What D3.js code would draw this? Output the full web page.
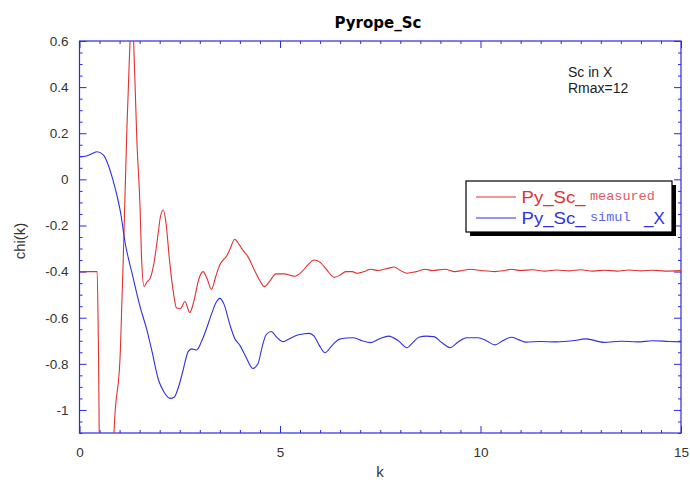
<!DOCTYPE html>
<html>
<head>
<meta charset="utf-8">
<script src="https://cdn.jsdelivr.net/npm/d3@7"></script>
<style>
  body { margin: 0; background: #fff; }
  svg { display: block; }
  .tick text { font-family: "Liberation Sans", Arial, sans-serif; font-size: 13.5px; fill: #333; }
</style>
</head>
<body>
<div id="chart"></div>
<script>
// chart data
var kMeasured = [0, 0.44, 0.47, 0.52, 0.83, 0.86, 1.02, 1.10, 1.18, 1.26, 1.30, 1.35, 1.43, 1.51, 1.55, 1.61, 1.68, 1.76, 1.85, 1.95,
    2.02, 2.09, 2.15, 2.25, 2.35, 2.42, 2.52, 2.63, 2.75, 2.85, 2.98, 3.08, 3.18, 3.29, 3.40, 3.50, 3.58, 3.66, 3.76, 3.87,
    3.97, 4.07, 4.20, 4.36, 4.50, 4.61, 4.75, 4.90, 5.10, 5.36, 5.55, 5.70, 5.85, 6.00, 6.20, 6.35, 6.50, 6.64, 6.80, 6.93,
    7.10, 7.26, 7.45, 7.59, 7.72, 7.84, 8.00, 8.17, 8.40, 8.62, 8.80, 9.12, 9.36, 9.55, 9.74, 10.0, 10.36, 10.6, 10.77, 11.0,
    11.3, 11.6, 11.9, 12.2, 12.5, 12.8, 13.1, 13.4, 13.7, 14.0, 14.3, 14.6, 15.0];
var chiMeasured = [-0.4, -0.4, -0.7, -1.5, -1.5, -1.1, -0.74, -0.29, 0.21, 0.6, 0.78, 0.6, 0.17, -0.12, -0.35, -0.465, -0.445, -0.43, -0.37, -0.25,
    -0.16, -0.133, -0.18, -0.36, -0.5, -0.558, -0.56, -0.53, -0.578, -0.53, -0.43, -0.40, -0.43, -0.477, -0.42, -0.37, -0.35, -0.335, -0.30, -0.26,
    -0.28, -0.306, -0.335, -0.393, -0.44, -0.465, -0.44, -0.41, -0.41, -0.42, -0.40, -0.37, -0.35, -0.36, -0.40, -0.425, -0.415, -0.40, -0.40, -0.407,
    -0.40, -0.39, -0.395, -0.39, -0.385, -0.38, -0.395, -0.407, -0.40, -0.39, -0.395, -0.39, -0.40, -0.395, -0.39, -0.395, -0.40, -0.395, -0.39, -0.395,
    -0.392, -0.398, -0.393, -0.397, -0.392, -0.398, -0.394, -0.398, -0.393, -0.397, -0.394, -0.398, -0.396];

var kSimul = [0, 0.15, 0.30, 0.44, 0.60, 0.70, 0.81, 0.92, 1.02, 1.14, 1.31, 1.51, 1.68, 1.80, 1.97, 2.10, 2.26, 2.36, 2.46, 2.58,
    2.71, 2.80, 2.92, 3.05, 3.17, 3.30, 3.42, 3.50, 3.60, 3.75, 3.87, 4.00, 4.15, 4.32, 4.45, 4.55, 4.65, 4.78, 4.92, 5.07,
    5.25, 5.44, 5.60, 5.73, 5.85, 5.98, 6.12, 6.30, 6.47, 6.65, 6.84, 7.05, 7.26, 7.50, 7.71, 7.95, 8.17, 8.30, 8.46, 8.65,
    8.83, 9.05, 9.24, 9.45, 9.65, 9.94, 10.15, 10.36, 10.55, 10.77, 10.95, 11.14, 11.5, 11.9, 12.3, 12.63, 13.08, 13.5, 13.9, 14.3,
    14.7, 15.0];
var chiSimul = [0.098, 0.10, 0.11, 0.12, 0.105, 0.07, 0.012, -0.06, -0.14, -0.277, -0.407, -0.552, -0.653, -0.74, -0.87, -0.92, -0.95, -0.945, -0.906, -0.83,
    -0.747, -0.735, -0.74, -0.70, -0.646, -0.58, -0.53, -0.516, -0.54, -0.63, -0.69, -0.72, -0.77, -0.82, -0.80, -0.73, -0.675, -0.66, -0.685, -0.704,
    -0.69, -0.675, -0.67, -0.668, -0.68, -0.72, -0.752, -0.72, -0.694, -0.688, -0.687, -0.70, -0.708, -0.69, -0.68, -0.70, -0.73, -0.71, -0.685, -0.68,
    -0.682, -0.71, -0.73, -0.704, -0.687, -0.687, -0.70, -0.718, -0.70, -0.685, -0.695, -0.706, -0.703, -0.705, -0.70, -0.692, -0.707, -0.702, -0.705, -0.700,
    -0.703, -0.705];

var xTicks = [0, 5, 10, 15];
var yTicks = [0.6, 0.4, 0.2, 0, -0.2, -0.4, -0.6, -0.8, -1];

var seriesNames = ["Py_Sc_", "Py_Sc_"];
var seriesTags = ["measured", "simul"];
var notes = ["Sc in X", "Rmax=12"];

// layout
var svgWidth = 690;
var svgHeight = 480;
var margin = { top: 41, right: 9, bottom: 47, left: 79.5 };
var chartWidth = svgWidth - margin.left - margin.right;
var chartHeight = svgHeight - margin.top - margin.bottom;

var axisColor = "#2a2ae0";
var redColor = "#e03030";
var blueColor = "#3030e0";

var xScale = d3.scaleLinear().domain([0, 15]).range([0, chartWidth]);
var yScale = d3.scaleLinear().domain([-1.1, 0.6]).range([chartHeight, 0]);

var svg = d3.select("#chart").append("svg")
    .attr("width", svgWidth)
    .attr("height", svgHeight);

var chartG = svg.append("g")
    .attr("transform", `translate(${margin.left}, ${margin.top})`);

chartG.append("clipPath").attr("id", "plotclip")
    .append("rect")
    .attr("width", chartWidth)
    .attr("height", chartHeight);

// minor tick positions: every 0.5 on k, every 0.05 on chi
var xMinor = d3.range(1, 30).filter(i => i % 10 !== 0).map(i => i * 0.5);
var yMinor = d3.range(-22, 13).filter(i => i % 4 !== 0).map(i => i * 0.05);

function styleAxis(g) {
    g.select(".domain").remove();
    g.selectAll(".tick line").attr("stroke", axisColor).attr("stroke-width", 1);
}

// bottom: minor, major with labels
chartG.append("g").attr("transform", `translate(0, ${chartHeight})`)
    .call(d3.axisBottom(xScale).tickValues(xMinor).tickSize(-3).tickFormat(""))
    .call(styleAxis);
chartG.append("g").attr("transform", `translate(0, ${chartHeight})`)
    .call(d3.axisBottom(xScale).tickValues(xTicks).tickSize(-7).tickPadding(14).tickFormat(d3.format("d")))
    .call(styleAxis);
// top
chartG.append("g")
    .call(d3.axisTop(xScale).tickValues(xMinor).tickSize(-3).tickFormat(""))
    .call(styleAxis);
chartG.append("g")
    .call(d3.axisTop(xScale).tickValues(xTicks).tickSize(-7).tickFormat(""))
    .call(styleAxis);

// left
chartG.append("g")
    .call(d3.axisLeft(yScale).tickValues(yMinor).tickSize(-3).tickFormat(""))
    .call(styleAxis);
chartG.append("g")
    .call(d3.axisLeft(yScale).tickValues(yTicks).tickSize(-7).tickPadding(11).tickFormat(d => String(+d.toFixed(1))))
    .call(styleAxis);
// right
chartG.append("g").attr("transform", `translate(${chartWidth}, 0)`)
    .call(d3.axisRight(yScale).tickValues(yMinor).tickSize(-3).tickFormat(""))
    .call(styleAxis);
chartG.append("g").attr("transform", `translate(${chartWidth}, 0)`)
    .call(d3.axisRight(yScale).tickValues(yTicks).tickSize(-7).tickFormat(""))
    .call(styleAxis);

// frame
chartG.append("rect")
    .attr("width", chartWidth)
    .attr("height", chartHeight)
    .attr("fill", "none")
    .attr("stroke", axisColor)
    .attr("stroke-width", 1.2);

// curves
var line = d3.line()
    .curve(d3.curveMonotoneX)
    .x(d => xScale(d[0]))
    .y(d => yScale(d[1]));

var linesG = chartG.append("g").attr("clip-path", "url(#plotclip)");

linesG.append("path")
    .datum(d3.zip(kMeasured, chiMeasured))
    .attr("fill", "none")
    .attr("stroke", redColor)
    .attr("stroke-width", 1.1)
    .attr("d", line);

linesG.append("path")
    .datum(d3.zip(kSimul, chiSimul))
    .attr("fill", "none")
    .attr("stroke", blueColor)
    .attr("stroke-width", 1.1)
    .attr("d", line);

// title and axis labels
svg.append("text")
    .attr("x", 378)
    .attr("y", 28)
    .attr("text-anchor", "middle")
    .style("font-family", "'DejaVu Sans', sans-serif")
    .style("font-weight", "bold")
    .style("font-size", "15px")
    .text("Pyrope_Sc");

svg.append("text")
    .attr("x", 380)
    .attr("y", 477)
    .attr("text-anchor", "middle")
    .style("font-family", "'Liberation Sans', Arial, sans-serif")
    .style("font-size", "15px")
    .style("fill", "#333")
    .text("k");

svg.append("text")
    .attr("transform", "translate(25, 241) rotate(-90)")
    .attr("text-anchor", "middle")
    .style("font-family", "'Liberation Sans', Arial, sans-serif")
    .style("font-size", "15px")
    .style("fill", "#333")
    .text("chi(k)");

// annotation
svg.selectAll(".note")
    .data(notes)
    .enter()
    .append("text")
    .attr("class", "note")
    .attr("x", 568)
    .attr("y", (d, i) => 77 + i * 16)
    .style("font-family", "'Liberation Sans', Arial, sans-serif")
    .style("font-size", "14px")
    .style("fill", "#222")
    .text(d => d);

// legend
var legendG = svg.append("g").attr("transform", "translate(466, 181)");
legendG.append("rect")
    .attr("x", 4).attr("y", 4)
    .attr("width", 206).attr("height", 51)
    .attr("fill", "#000");
legendG.append("rect")
    .attr("width", 206).attr("height", 51)
    .attr("fill", "#fff")
    .attr("stroke", "#000")
    .attr("stroke-width", 1.2);

var legColors = [redColor, blueColor];
var tagColors = ["#e25a5a", "#5a68e6"];
seriesNames.forEach((name, i) => {
    var yy = 16 + i * 21;
    legendG.append("line")
        .attr("x1", 10).attr("x2", 50)
        .attr("y1", yy).attr("y2", yy)
        .attr("stroke", legColors[i])
        .attr("stroke-width", 1.2);
    legendG.append("text")
        .attr("x", 55.5)
        .attr("y", yy + 6)
        .attr("textLength", 64)
        .attr("lengthAdjust", "spacingAndGlyphs")
        .style("font-family", "'Liberation Sans', Arial, sans-serif")
        .style("font-size", "17px")
        .style("fill", legColors[i])
        .text(name);
    legendG.append("text")
        .attr("x", 124)
        .attr("y", yy + 2.5)
        .style("font-family", "'Liberation Mono', 'DejaVu Sans Mono', monospace")
        .style("font-size", "13.5px")
        .style("fill", tagColors[i])
        .text(seriesTags[i]);
});
legendG.append("text")
    .attr("x", 178)
    .attr("y", 43)
    .style("font-family", "'Liberation Sans', Arial, sans-serif")
    .style("font-size", "17px")
    .style("fill", blueColor)
    .text("_X");
</script>
</body>
</html>
